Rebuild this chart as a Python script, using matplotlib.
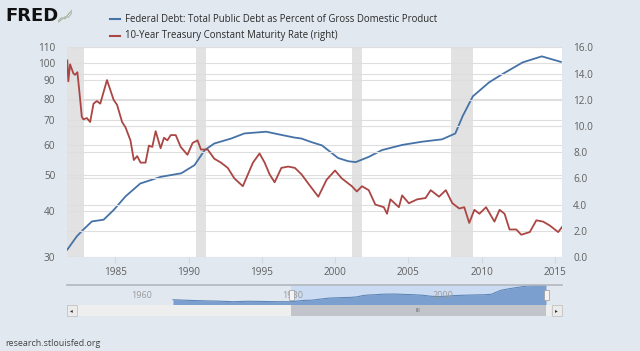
import numpy as np
import matplotlib
matplotlib.use("Agg")
import matplotlib.pyplot as plt
from matplotlib.patches import Rectangle

# ---- data ----
debt_years = [1981.72, 1982.37, 1982.8, 1983.4, 1984.2, 1984.9, 1985.7, 1986.7, 1988.1, 1989.5,
              1990.4, 1991.1, 1991.75, 1992.9, 1993.8, 1995.3, 1996.1, 1997.2, 1997.7, 1998.4,
              1999.1, 2000.2, 2000.9, 2001.4, 2002.3, 2003.2, 2004.6, 2005.95, 2007.3, 2008.2,
              2008.7, 2009.4, 2010.5, 2011.4, 2012.8, 2014.1, 2015.4]
debt_values = [31.4, 34.1, 35.5, 37.4, 37.8, 40.2, 43.7, 47.3, 49.3, 50.4,
               53.0, 58.2, 60.6, 62.5, 64.5, 65.2, 64.2, 62.9, 62.5, 61.1,
               59.9, 55.4, 54.3, 54.0, 55.8, 58.2, 60.1, 61.3, 62.2, 64.5,
               71.8, 81.2, 88.5, 93.1, 100.2, 104.0, 100.5]

rate_years = [1981.72, 1981.79, 1981.91, 1982.14, 1982.25, 1982.41, 1982.6, 1982.71, 1982.82, 1983.06,
              1983.28, 1983.51, 1983.74, 1983.97, 1984.43, 1984.88, 1985.12, 1985.46, 1985.69, 1986.03,
              1986.26, 1986.49, 1986.72, 1987.06, 1987.29, 1987.52, 1987.75, 1988.09, 1988.32, 1988.55,
              1988.78, 1989.12, 1989.46, 1989.92, 1990.27, 1990.61, 1990.84, 1991.3, 1991.75, 1992.21,
              1992.67, 1993.12, 1993.7, 1994.39, 1994.84, 1995.19, 1995.53, 1995.87, 1996.33, 1996.79,
              1997.25, 1997.71, 1998.17, 1998.85, 1999.42, 1999.99, 2000.45, 2001.14, 2001.48, 2001.83,
              2002.29, 2002.74, 2003.32, 2003.54, 2003.77, 2004.35, 2004.57, 2005.03, 2005.6, 2006.17,
              2006.52, 2007.09, 2007.55, 2008.0, 2008.47, 2008.81, 2009.15, 2009.5, 2009.84, 2010.3,
              2010.87, 2011.22, 2011.56, 2011.9, 2012.36, 2012.7, 2013.28, 2013.73, 2014.19, 2014.65,
              2015.22, 2015.56]
rate_values = [15.0, 13.4, 14.7, 14.0, 13.9, 14.1, 12.0, 10.7, 10.5, 10.6,
               10.3, 11.7, 11.9, 11.7, 13.5, 12.0, 11.6, 10.3, 9.9, 8.9,
               7.4, 7.7, 7.2, 7.2, 8.5, 8.4, 9.6, 8.3, 9.1, 8.9,
               9.3, 9.3, 8.4, 7.8, 8.7, 8.9, 8.2, 8.2, 7.5, 7.2,
               6.8, 6.0, 5.4, 7.2, 7.9, 7.2, 6.3, 5.7, 6.8, 6.9,
               6.8, 6.3, 5.6, 4.6, 5.9, 6.6, 6.0, 5.4, 5.0, 5.4,
               5.1, 4.0, 3.8, 3.3, 4.4, 3.8, 4.7, 4.1, 4.4, 4.5,
               5.1, 4.6, 5.1, 4.1, 3.7, 3.8, 2.6, 3.6, 3.3, 3.8,
               2.7, 3.6, 3.3, 2.1, 2.1, 1.7, 1.9, 2.8, 2.7, 2.4,
               1.9, 2.4]

recessions = [(1981.5, 1982.83), (1990.5, 1991.17), (2001.17, 2001.83), (2007.92, 2009.42)]

# navigator shows the debt series from 1966
nav_years = [1966.0, 1968.0, 1970.0, 1972.0, 1974.0, 1976.0, 1978.0, 1980.0]
nav_values = [40.0, 37.5, 35.5, 34.0, 31.5, 33.5, 32.5, 31.5]

left_ticks = [30, 40, 50, 60, 70, 80, 90, 100, 110]
right_ticks = [0, 2, 4, 6, 8, 10, 12, 14, 16]
x_ticks = [1985, 1990, 1995, 2000, 2005, 2010, 2015]
nav_labels = [1960, 1980, 2000]

debt_label = "Federal Debt: Total Public Debt as Percent of Gross Domestic Product"
rate_label = "10-Year Treasury Constant Maturity Rate (right)"

BG = "#e1e8ef"
BLUE = "#4572a7"
RED = "#aa4643"
GRID = "#dedede"
TXT = "#606060"
W, H = 640, 351

fig = plt.figure(figsize=(6.4, 3.51), dpi=100, facecolor=BG)


def px(x0, y0, x1, y1):
    # pixel box (top-left origin) -> figure fraction
    return [x0 / W, 1 - y1 / H, (x1 - x0) / W, (y1 - y0) / H]


ax = fig.add_axes(px(66.7, 47.3, 561.7, 257.0))
ax.set_facecolor("white")
ax.set_yscale("log")
ax.set_ylim(30, 110)
ax.set_xlim(1981.68, 2015.46)
for a, b in recessions:
    ax.axvspan(a, b, color="#e2e2e2", lw=0, zorder=0)
ax.set_yticks(left_ticks)
ax.set_yticklabels([str(t) for t in left_ticks])
ax.yaxis.set_minor_locator(matplotlib.ticker.NullLocator())
ax.grid(axis="y", color=GRID, lw=0.8, zorder=1)
ax.set_xticks(x_ticks)
ax.set_xticklabels([str(t) for t in x_ticks])
ax.tick_params(axis="y", length=0, pad=8.2, labelsize=7.2, labelcolor=TXT)
ax.tick_params(axis="x", length=4, color="#cfd8e0", pad=3.5, labelsize=7.2, labelcolor=TXT)
for s in ax.spines.values():
    s.set_visible(False)
ax.plot(debt_years, debt_values, color=BLUE, lw=1.3, zorder=4, solid_joinstyle="round")

ax2 = ax.twinx()
ax2.set_ylim(0, 16)
ax2.set_yticks(right_ticks)
ax2.set_yticklabels([f"{t:.1f}" for t in right_ticks])
ax2.grid(axis="y", color=GRID, lw=0.8, zorder=1)
ax2.tick_params(axis="y", length=0, pad=8.2, labelsize=7.2, labelcolor=TXT)
for s in ax2.spines.values():
    s.set_visible(False)
ax2.plot(rate_years, rate_values, color=RED, lw=1.3, zorder=4, solid_joinstyle="round")

for lab in ax.get_xticklabels() + ax.get_yticklabels() + ax2.get_yticklabels():
    lab.set_family(["Open Sans", "DejaVu Sans"])

# ---- header: logo + legend ----
fig.text(5 / W, 1 - 16 / H, "FRED", fontsize=13, fontweight="bold", color="#111111",
         va="center", ha="left", family="DejaVu Sans")
ico = fig.add_axes(px(58, 9, 72, 23))
ico.axis("off")
ico.set_xlim(0, 4)
ico.set_ylim(0, 4)
ico.plot([0, 1, 2, 3, 4], [0.5, 1.5, 1.2, 2.6, 3.6], color="#9bb88f", lw=0.8)
ico.plot([0, 1, 2, 3, 4], [0.2, 0.9, 1.8, 1.6, 3.0], color="#b5b5b5", lw=0.8)

for yy, col, lab in [(19, BLUE, debt_label), (35.5, RED, rate_label)]:
    fig.add_artist(plt.Line2D([110 / W, 120 / W], [1 - yy / H, 1 - yy / H], color=col, lw=1.5))
    fig.text(125 / W, 1 - yy / H, lab, fontsize=6.9, color="#2a2a2a", va="center", ha="left",
             family="Open Sans")

# ---- navigator ----
nav = fig.add_axes(px(66.7, 285, 561.7, 305))
nav.set_xlim(1951.92, 2017.48)
nav.set_ylim(17, 105)
nav.axis("off")
nav.axvspan(1981.68, 2015.46, color="#cbdcf2", lw=0, zorder=0)
all_years = nav_years + debt_years
all_vals = nav_values + debt_values
nav.fill_between(all_years, all_vals, 17, color="#7b9fcf", lw=0, zorder=1)
nav.plot(all_years, all_vals, color="#5f86b9", lw=0.8, zorder=2)
for t in nav_labels:
    nav.annotate(str(t), (t, 17), xytext=(3, 5), textcoords="offset pixels",
                 color="#9a9a9a", fontsize=6.5, ha="left", va="bottom", zorder=3,
                 family=["Open Sans", "DejaVu Sans"])
fig.add_artist(plt.Line2D([66.7 / W, 561.7 / W], [1 - 285 / H] * 2, color="#b2b7bd", lw=1.2))

# handles
for hx in (291, 546):
    fig.add_artist(Rectangle((hx / W - 2.5 / W, 1 - 299.5 / H), 5 / W, 10 / H,
                             facecolor="#f4f4f4", edgecolor="#999999", lw=0.5))

# scrollbar
fig.add_artist(Rectangle((77 / W, 1 - 316 / H), (551 - 77) / W, 11 / H,
                         facecolor="#eeeeee", edgecolor="none"))
fig.add_artist(Rectangle((291 / W, 1 - 316 / H), (546 - 291) / W, 11 / H,
                         facecolor="#c1c5cb", edgecolor="none"))
fig.text(418 / W, 1 - 310.5 / H, "III", fontsize=4, color="#666666", ha="center", va="center")
for bx, ch in ((66.5, "\u25c2"), (551.5, "\u25b8")):
    fig.add_artist(Rectangle((bx / W, 1 - 316 / H), 10 / W, 11 / H,
                             facecolor="#ebebeb", edgecolor="#bbbbbb", lw=0.5))
    fig.text((bx + 5) / W, 1 - 310.5 / H, ch, fontsize=4, color="#333333", ha="center", va="center")

fig.text(5 / W, 1 - 343 / H, "research.stlouisfed.org", fontsize=6.4, color="#444444",
         ha="left", va="center", family=["Open Sans", "DejaVu Sans"])

fig.savefig("out.png", dpi=100, facecolor=BG)
